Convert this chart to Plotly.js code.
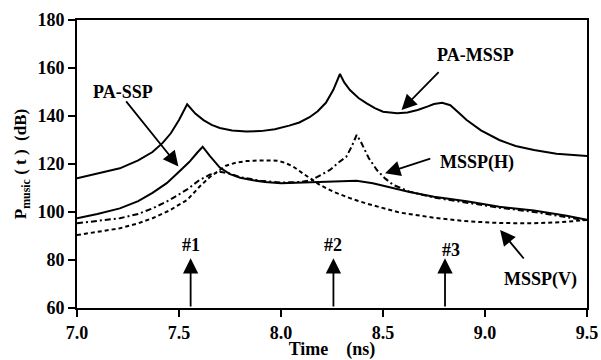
<!DOCTYPE html>
<html>
<head>
<meta charset="utf-8">
<script src="https://cdn.plot.ly/plotly-3.0.1.min.js"></script>
<style>html,body{margin:0;padding:0;background:#fff}#chart{width:601px;height:360px}</style>
</head>
<body>
<div id="chart"></div>
<script>
// PA-MSSP (solid, upper)
const paMsspT = [7.00,7.10,7.21,7.30,7.37,7.42,7.46,7.50,7.54,7.58,7.62,7.66,7.70,7.76,7.83,7.90,7.97,8.04,8.09,8.14,8.18,8.22,8.256,8.289,8.31,8.338,8.38,8.42,8.46,8.50,8.57,8.62,8.67,8.72,8.75,8.79,8.83,8.87,8.91,8.98,9.07,9.15,9.24,9.35,9.50];
const paMsspV = [114.0,116.0,118.2,121.5,125.0,128.8,132.8,138.3,144.9,141.0,138.3,136.3,135.0,134.0,133.5,133.7,134.5,136.0,137.3,139.5,142.0,145.5,150.8,157.5,154.0,150.8,147.5,145.3,143.3,141.8,141.1,141.5,142.5,144.0,145.0,145.5,144.5,141.5,138.3,134.0,130.0,127.5,125.8,124.3,123.3];
// PA-SSP (solid, lower)
const paSspT = [7.00,7.10,7.21,7.30,7.37,7.44,7.50,7.55,7.59,7.616,7.65,7.70,7.75,7.80,7.85,7.92,8.00,8.10,8.20,8.30,8.37,8.45,8.55,8.63,8.75,8.91,9.07,9.24,9.40,9.50];
const paSspV = [97.4,99.2,101.5,104.5,108.0,112.0,116.8,120.8,124.8,127.2,123.5,118.5,115.8,114.3,113.4,112.5,112.0,112.3,112.7,113.0,113.0,112.0,110.0,108.3,106.4,104.5,102.2,100.6,98.4,96.8];
// MSSP(H) (dash-dot)
const msspHT = [7.00,7.10,7.21,7.30,7.37,7.45,7.54,7.60,7.65,7.70,7.75,7.80,7.90,8.00,8.10,8.15,8.20,8.24,8.28,8.32,8.345,8.371,8.39,8.404,8.43,8.47,8.51,8.55,8.63,8.75,8.91,9.07,9.24,9.40,9.50];
const msspHV = [95.3,96.2,97.4,99.2,101.5,104.8,109.4,113.3,115.5,116.8,116.0,114.5,113.0,112.3,112.5,113.3,115.5,117.5,120.5,123.0,127.0,132.1,129.5,127.2,122.5,117.5,114.0,111.3,108.5,106.0,104.0,101.8,100.0,98.0,96.5];
// MSSP(V) (dashed)
const msspVT = [7.00,7.10,7.21,7.30,7.37,7.45,7.54,7.60,7.65,7.70,7.73,7.78,7.83,7.90,7.98,8.02,8.06,8.10,8.13,8.19,8.26,8.34,8.42,8.50,8.58,8.75,8.90,9.07,9.24,9.38,9.50];
const msspVV = [90.4,91.6,93.2,95.3,97.4,100.5,105.0,110.5,114.5,117.5,119.3,120.6,121.2,121.5,121.4,120.5,118.9,116.5,114.7,111.3,108.3,105.7,103.5,101.5,99.8,97.6,96.2,95.4,95.3,95.8,96.7];
// marker arrows #1..#3
const markT = [7.557, 8.257, 8.804];
const markLabels = ['#1', '#2', '#3'];
const xTicks = [7.0, 7.5, 8.0, 8.5, 9.0, 9.5];
const yTicks = [60, 80, 100, 120, 140, 160, 180];

const FONT = 'Liberation Serif';
const line = (x, y, dash, name) => ({x, y, name, type: 'scatter', mode: 'lines',
  line: {color: '#000', width: 2, dash}, hoverinfo: 'skip', showlegend: false});

const data = [
  line(paMsspT, paMsspV, 'solid', 'PA-MSSP'),
  line(paSspT, paSspV, 'solid', 'PA-SSP'),
  line(msspHT, msspHV, '6px,3px,2px,3px', 'MSSP(H)'),
  line(msspVT, msspVV, '4px,3px', 'MSSP(V)')
];

const txtFont = {family: FONT, size: 18, color: '#000', weight: 'bold'};
const annotations = [];
// curve labels
annotations.push({x: 7.225, y: 150, xref: 'x', yref: 'y', text: 'PA-SSP', showarrow: false, font: txtFont});
annotations.push({x: 8.951, y: 165.4, xref: 'x', yref: 'y', text: 'PA-MSSP', showarrow: false, font: txtFont});
annotations.push({x: 8.96, y: 120.8, xref: 'x', yref: 'y', text: 'MSSP(H)', showarrow: false, font: txtFont});
annotations.push({x: 9.27, y: 71.7, xref: 'x', yref: 'y', text: 'MSSP(V)', showarrow: false, font: txtFont});
// pointer arrows
const ptr = (x, y, ax, ay) => ({x, y, ax, ay, xref: 'x', yref: 'y', axref: 'x', ayref: 'y', text: '',
  showarrow: true, arrowhead: 2, arrowsize: 1.7, arrowwidth: 1.8, arrowcolor: '#000'});
annotations.push(ptr(7.497, 119.0, 7.235, 146.7));
annotations.push(ptr(8.591, 142.5, 8.78, 158.9));
annotations.push(ptr(8.51, 116.1, 8.739, 122.4));
annotations.push(ptr(9.074, 92.5, 9.196, 80.0));
// marker arrows
const markLabelY = [86.2, 86.2, 84.2];
markT.forEach((t, i) => {
  annotations.push(ptr(t, 80.7, t, 60));
  annotations.push({x: t + (i === 2 ? 0.03 : 0), y: markLabelY[i], xref: 'x', yref: 'y', text: markLabels[i], showarrow: false, font: txtFont});
});

const tickFont = {family: FONT, size: 18, color: '#000', weight: 'bold'};
const layout = {
  width: 601, height: 360,
  margin: {l: 77, r: 14, t: 20, b: 52},
  paper_bgcolor: '#fff', plot_bgcolor: '#fff',
  showlegend: false,
  xaxis: {
    range: [7.0, 9.5], tickvals: xTicks, ticktext: xTicks.map(v => v.toFixed(1)),
    ticks: 'outside', ticklen: 7, tickwidth: 1.5, tickcolor: '#000',
    showline: true, linecolor: '#000', linewidth: 2, mirror: true,
    showgrid: false, zeroline: false, tickfont: tickFont,
    title: {text: 'Time&nbsp;&nbsp;&nbsp;&nbsp;(ns)', font: tickFont, standoff: 0}
  },
  yaxis: {
    range: [60, 180], tickvals: yTicks,
    ticks: 'outside', ticklen: 7, tickwidth: 1.5, tickcolor: '#000',
    showline: true, linecolor: '#000', linewidth: 2, mirror: true,
    showgrid: false, zeroline: false, tickfont: tickFont,
    title: {text: 'P<sub>music</sub> ( t )&nbsp;&nbsp;(dB)', font: {family: FONT, size: 17, color: '#000', weight: 'bold'}, standoff: 6}
  },
  annotations
};

Plotly.newPlot('chart', data, layout, {staticPlot: true, displayModeBar: false});
</script>
</body>
</html>
